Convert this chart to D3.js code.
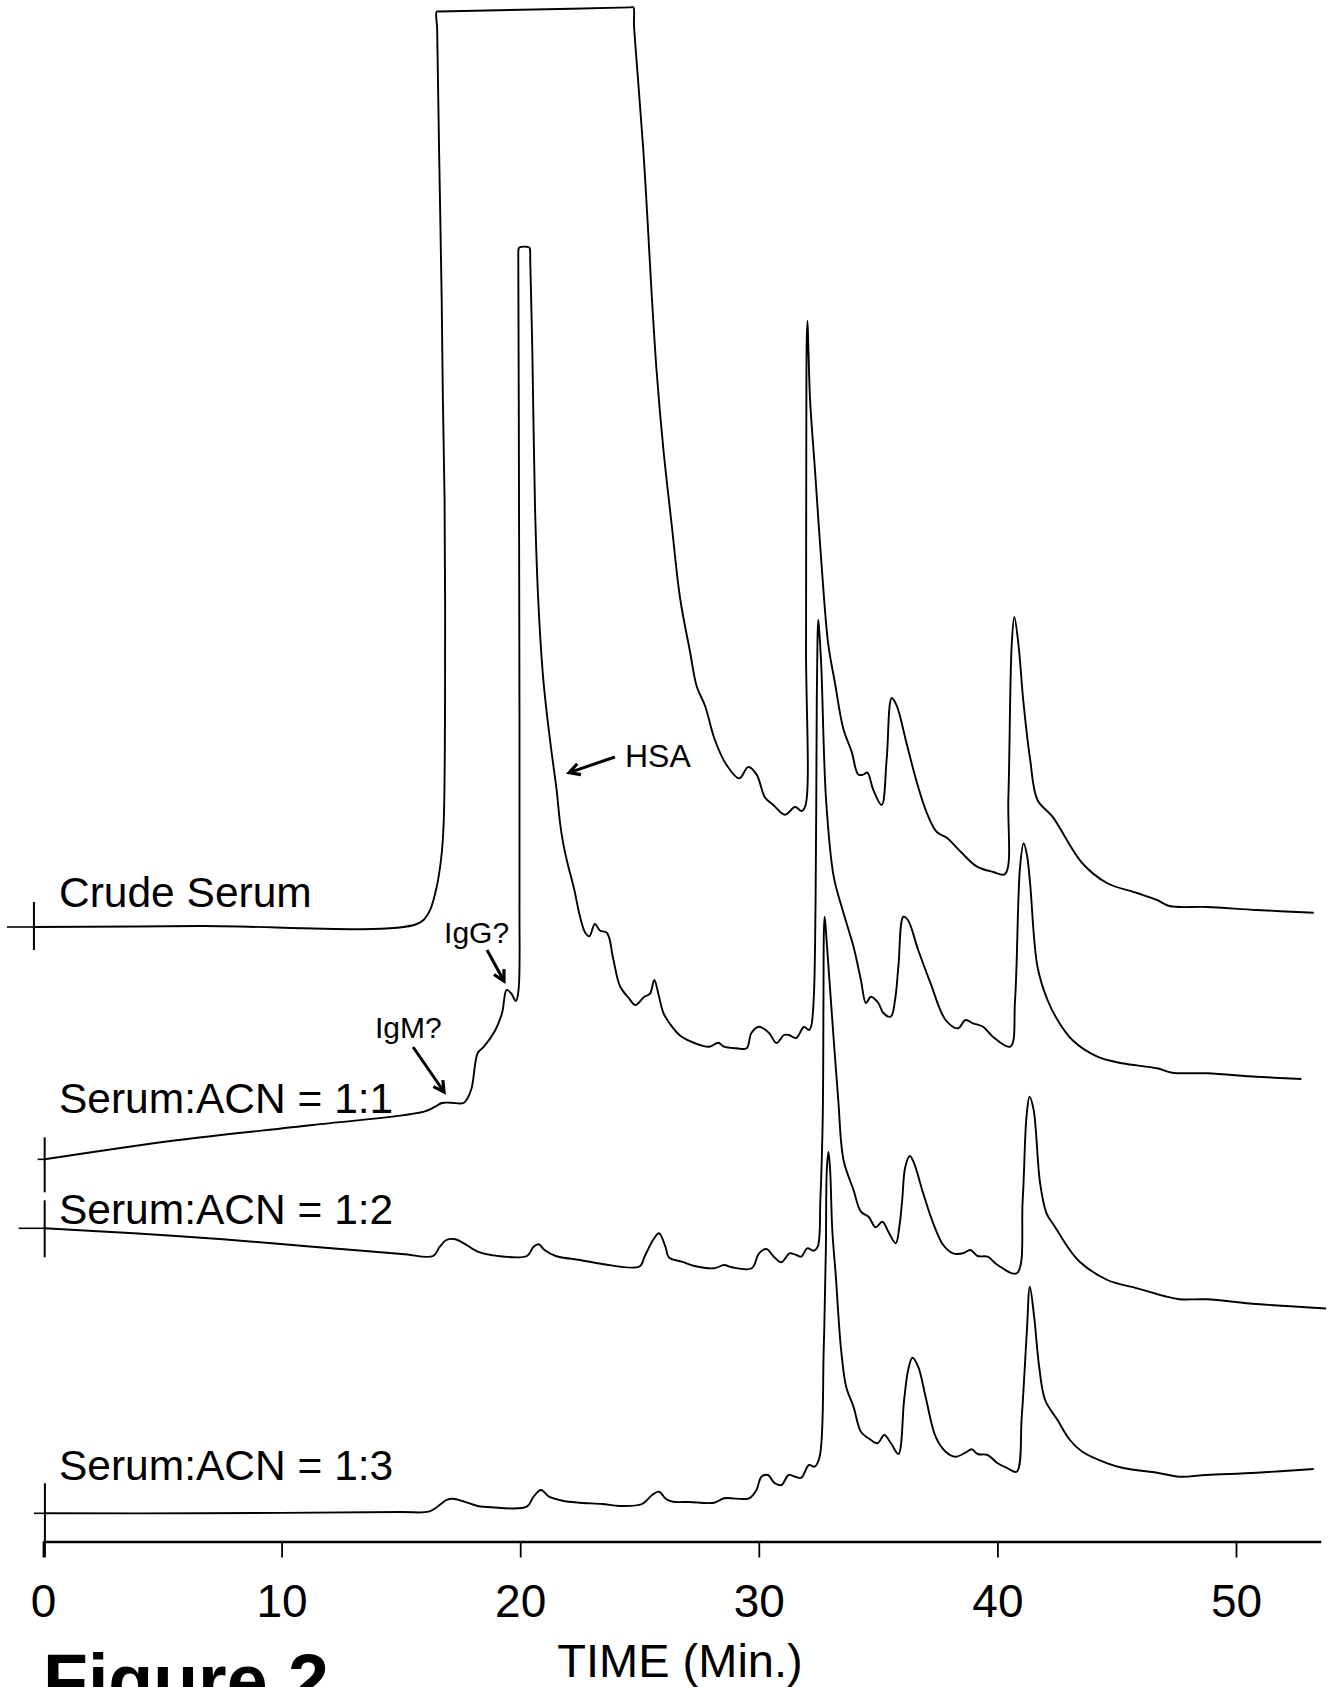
<!DOCTYPE html>
<html>
<head>
<meta charset="utf-8">
<script src="https://cdn.jsdelivr.net/npm/d3@7"></script>
<style>
  body { margin: 0; background: #fff; }
  svg { display: block; font-family: "Liberation Sans", Arial, Helvetica, sans-serif; }
</style>
</head>
<body>
<div id="chart"></div>
<script>
// Chromatogram traces: [time (min), detector signal (a.u.)]
// signal values already include the vertical stacking offset used in the figure
const crudeSerum = [
  [-0.38, 61.45], [6.58, 61.55], [15.67, 61.75], [16.16, 62.85], [16.47, 65.15], [16.68, 68.15],
  [16.79, 71.65], [16.85, 84.15], [16.83, 104.15], [16.76, 114.15], [16.71, 124.15], [16.60, 139.15],
  [16.52, 151.2], [16.50, 152.98], [16.62, 153.0], [20.6, 153.2], [24.60, 153.41], [24.74, 153.42],
  [24.77, 151.6], [24.94, 146.15], [25.16, 139.15], [25.36, 131.15], [25.50, 125.15],
  [25.72, 116.95], [26.00, 109.25], [26.35, 101.65], [26.70, 94.35], [27.12, 88.95], [27.40, 85.5],
  [27.75, 83.55], [28.16, 80.15], [28.65, 77.65], [29.18, 76.31], [29.56, 77.45], [29.91, 76.69],
  [30.26, 74.4], [30.61, 73.65], [31.10, 72.68], [31.52, 73.45], [31.80, 73.05], [31.96, 73.65],
  [31.98, 89.15], [31.99, 109.15], [32.01, 120.15], [32.04, 122.05], [32.08, 119.15], [32.15, 114.15],
  [32.36, 106.95], [32.64, 97.35], [32.91, 89.75], [33.19, 85.88], [33.54, 81.29], [33.89, 78.99],
  [34.17, 76.69], [34.38, 76.69], [34.55, 76.89], [34.80, 75.16], [35.15, 73.65], [35.36, 78.25],
  [35.57, 84.35], [35.78, 83.58], [36.20, 79.75], [36.62, 75.95], [37.04, 72.87], [37.46, 70.95],
  [37.88, 70.38], [38.43, 69.05], [39.13, 67.51], [39.83, 66.95], [40.32, 66.75], [40.46, 74.4],
  [40.60, 89.71], [40.71, 92.46], [40.88, 89.75], [41.09, 83.97], [41.37, 78.25], [41.68, 74.15],
  [42.31, 72.48], [43.55, 67.85], [44.59, 65.85], [45.85, 64.85], [46.69, 64.15], [47.21, 63.55],
  [48.78, 63.45], [50.86, 63.15], [53.26, 62.88]
];

const serumAcn11 = [
  [0.07, 38.22], [5.68, 40.15], [11.30, 41.65], [15.97, 42.98], [16.43, 43.48], [16.72, 43.85],
  [17.10, 43.88], [17.64, 43.88], [17.94, 45.15], [18.22, 48.85], [18.48, 49.48], [18.96, 51.15],
  [19.24, 52.85], [19.43, 55.15], [19.61, 54.85], [19.82, 54.05], [19.93, 55.15], [19.97, 64.15],
  [19.96, 94.15], [19.94, 114.15], [19.92, 128.15], [19.925, 129.1], [19.96, 129.4], [20.38, 129.4],
  [20.415, 129.1], [20.42, 128.15],
  [20.51, 118.85], [20.62, 103.55], [20.76, 93.95], [20.97, 86.15], [21.25, 80.15], [21.53, 75.07],
  [21.67, 71.85], [21.81, 69.71], [21.98, 67.85], [22.25, 65.35], [22.51, 62.45], [22.72, 60.9],
  [22.90, 60.52], [23.13, 61.75], [23.34, 61.1], [23.64, 60.85], [23.90, 58.25], [24.18, 55.55],
  [24.53, 54.4], [24.83, 53.65], [25.19, 54.45], [25.44, 54.78], [25.62, 56.15], [25.79, 54.78],
  [26.00, 52.87], [26.28, 51.75], [26.70, 50.6], [27.30, 49.85], [27.93, 49.48], [28.30, 49.88],
  [28.54, 49.48], [29.07, 49.32], [29.49, 49.32], [29.69, 50.85], [30.01, 51.48], [30.43, 50.85],
  [30.74, 49.85], [31.06, 50.65], [31.26, 50.65], [31.57, 50.35], [31.89, 51.45], [32.10, 51.15],
  [32.19, 51.48], [32.30, 54.15], [32.38, 64.15], [32.43, 84.15], [32.46, 90.15], [32.49, 92.15],
  [32.53, 91.15], [32.62, 87.48], [32.82, 74.15], [33.14, 66.48], [33.55, 62.85], [33.97, 59.48],
  [34.28, 56.15], [34.49, 53.85], [34.70, 54.48], [35.01, 53.85], [35.22, 52.85], [35.53, 52.48],
  [35.71, 54.15], [35.85, 57.48], [36.06, 62.48], [36.25, 62.15], [36.68, 59.15], [37.20, 55.82],
  [37.83, 52.15], [38.35, 51.32], [38.66, 52.15], [38.98, 51.82], [39.40, 51.48], [39.81, 50.48],
  [40.54, 49.48], [40.74, 54.15], [40.95, 67.48], [41.10, 69.82], [41.24, 68.65], [41.37, 65.82],
  [41.68, 57.48], [42.10, 54.15], [42.52, 52.15], [43.14, 50.15], [44.19, 48.48], [45.23, 47.82],
  [46.69, 47.32], [47.32, 46.88], [48.78, 46.82], [50.86, 46.48], [52.74, 46.25]
];

const serumAcn12 = [
  [0.07, 31.32], [3.81, 30.82], [7.54, 30.22], [11.30, 29.48], [15.04, 28.75], [16.35, 28.55],
  [16.63, 29.48], [16.91, 30.15], [17.28, 30.22], [17.75, 29.65], [18.22, 28.98], [18.78, 28.65],
  [20.28, 28.55], [20.56, 29.48], [20.78, 29.72], [21.02, 29.15], [21.49, 28.55], [22.51, 28.15],
  [23.44, 27.75], [25.00, 27.5], [25.21, 28.48], [25.57, 30.15], [25.82, 30.82], [26.09, 29.45],
  [26.23, 28.42], [26.77, 27.98], [27.30, 27.55], [28.13, 27.32], [28.55, 27.65], [28.87, 27.42],
  [29.70, 27.32], [30.01, 28.82], [30.32, 29.25], [30.63, 28.48], [30.95, 27.92], [31.29, 28.82],
  [31.57, 28.65], [31.78, 28.48], [32.03, 29.32], [32.30, 29.08], [32.47, 29.48], [32.58, 34.15],
  [32.68, 42.48], [32.71, 54.15], [32.73, 61.15], [32.76, 62.48], [32.81, 61.15], [32.92, 57.48],
  [33.12, 50.85], [33.33, 44.15], [33.55, 38.15], [33.97, 35.15], [34.28, 32.98], [34.60, 32.48],
  [34.90, 31.42], [35.18, 31.98], [35.43, 30.98], [35.74, 29.82], [35.90, 31.65], [36.01, 34.15],
  [36.14, 37.48], [36.33, 38.55], [36.51, 37.82], [36.89, 34.82], [37.31, 31.82], [37.73, 29.65],
  [38.14, 28.82], [38.56, 28.82], [38.87, 29.15], [39.17, 28.55], [39.59, 28.48], [40.01, 27.65],
  [40.81, 26.82], [41.06, 34.15], [41.22, 42.48], [41.35, 44.48], [41.52, 43.15], [41.79, 35.82],
  [42.06, 32.82], [42.41, 31.48], [42.94, 29.48], [43.45, 27.98], [44.61, 26.15], [45.86, 25.32],
  [46.99, 24.55], [47.63, 24.22], [48.76, 24.22], [50.86, 23.75], [53.78, 23.3]
];

const serumAcn13 = [
  [0.08, 2.82], [6.58, 2.82], [14.96, 2.95], [16.16, 2.98], [16.53, 3.48], [16.91, 4.15],
  [17.18, 4.28], [17.66, 3.98], [18.22, 3.55], [18.78, 3.42], [20.28, 3.48], [20.56, 4.48],
  [20.87, 5.15], [21.21, 4.48], [21.77, 4.08], [22.51, 3.88], [23.44, 3.75], [24.17, 3.55],
  [25.11, 3.75], [25.53, 4.65], [25.82, 4.98], [26.11, 4.25], [26.40, 3.98], [27.09, 3.95],
  [28.13, 3.88], [28.55, 4.32], [29.59, 4.32], [29.90, 5.15], [30.11, 6.48], [30.38, 6.65],
  [30.67, 5.82], [30.95, 5.65], [31.25, 6.65], [31.53, 6.48], [31.78, 6.38], [32.10, 7.65],
  [32.34, 7.48], [32.55, 8.48], [32.72, 19.15], [32.81, 29.15], [32.85, 37.15], [32.92, 38.95],
  [32.99, 37.15], [33.08, 31.15], [33.24, 26.15], [33.34, 22.48], [33.45, 19.15], [33.66, 15.48],
  [33.97, 13.48], [34.28, 10.98], [34.60, 10.32], [34.97, 9.82], [35.26, 10.65], [35.54, 9.82],
  [35.85, 8.75], [36.09, 14.15], [36.26, 17.15], [36.44, 18.38], [36.68, 17.48], [36.99, 14.48],
  [37.41, 10.48], [37.83, 8.98], [38.24, 8.48], [38.66, 8.88], [38.93, 9.22], [39.17, 8.75],
  [39.59, 8.65], [40.01, 7.82], [40.43, 7.32], [40.81, 6.98], [41.02, 12.48], [41.23, 20.82],
  [41.36, 25.48], [41.54, 22.48], [41.75, 17.48], [42.00, 14.15], [42.52, 12.15], [43.04, 10.15],
  [43.56, 8.98], [44.61, 7.82], [45.32, 7.32], [46.69, 6.88], [47.63, 6.48], [48.76, 6.65],
  [50.86, 6.88], [53.26, 7.25]
];

const traceNames = ["Crude Serum", "Serum:ACN = 1:1", "Serum:ACN = 1:2", "Serum:ACN = 1:3"];
const timeTicks = [0, 10, 20, 30, 40, 50];

// peak annotations: label anchor, arrow tail and arrow tip in [time, signal]
const annotationText = ["HSA", "IgG?", "IgM?"];
const annotationLabel = [[24.39, 77.45], [16.81, 59.85], [13.91, 50.35]];
const annotationTail = [[23.97, 78.45], [18.61, 59.15], [15.51, 49.45]];
const annotationTip = [[22.05, 76.89], [19.32, 56.05], [16.81, 44.95]];

// ----- layout -----
const width = 1338, height = 1687;
const margin = { left: 43, right: 17.3, bottom: 145.5, top: 41.5 };
const fontFamily = "'Liberation Sans', Arial, Helvetica, sans-serif";

const svg = d3.select("#chart").append("svg")
  .attr("width", width)
  .attr("height", height);

svg.append("rect")
  .attr("width", width)
  .attr("height", height)
  .attr("fill", "#fff");

const x = d3.scaleLinear()
  .domain([0, 53.55])
  .range([margin.left, width - margin.right]);

const y = d3.scaleLinear()
  .domain([0, 150])
  .range([height - margin.bottom, margin.top]);

const line = d3.line()
  .x(d => x(d[0]))
  .y(d => y(d[1]))
  .curve(d3.curveCatmullRom.alpha(0.5));

// x axis
const gx = svg.append("g")
  .attr("transform", `translate(0,${y(0)})`)
  .call(d3.axisBottom(x).tickValues(timeTicks).tickSize(16).tickSizeOuter(0).tickPadding(27).tickFormat(d3.format("d")));

gx.select(".domain").attr("stroke", "#000").attr("stroke-width", 2.4);
gx.selectAll(".tick line").attr("stroke", "#000").attr("stroke-width", 1.8);
gx.selectAll(".tick text")
  .attr("fill", "#000")
  .attr("font-size", 46)
  .attr("font-family", fontFamily);

svg.append("text")
  .attr("x", 680)
  .attr("y", 1677)
  .attr("text-anchor", "middle")
  .attr("font-size", 47)
  .attr("fill", "#000")
  .text("TIME (Min.)");

svg.append("text")
  .attr("x", 43)
  .attr("y", 1706)
  .attr("font-size", 73.5)
  .attr("font-weight", "bold")
  .attr("fill", "#000")
  .text("Figure 2");

// traces
const traces = [crudeSerum, serumAcn11, serumAcn12, serumAcn13];

svg.selectAll(".trace")
  .data(traces)
  .enter()
  .append("path")
  .attr("class", "trace")
  .attr("d", line)
  .attr("fill", "none")
  .attr("stroke", "#000")
  .attr("stroke-width", 1.9)
  .attr("stroke-linejoin", "round");

// injection markers at the start of each trace
const markerStub = [27, 7, 26, 11];
const markerUp = [25, 22, 28, 30];
const markerDown = [23, 33, 29, 44];

traces.forEach((tr, i) => {
  const cx = x(tr[0][0]), cy = y(tr[0][1]);
  svg.append("line")
    .attr("x1", cx).attr("x2", cx)
    .attr("y1", cy - markerUp[i]).attr("y2", cy + markerDown[i])
    .attr("stroke", "#000").attr("stroke-width", 2);
  svg.append("line")
    .attr("x1", cx - markerStub[i]).attr("x2", cx)
    .attr("y1", cy).attr("y2", cy)
    .attr("stroke", "#000").attr("stroke-width", 1.6);
});

// trace labels
const labelAnchor = [[0.67, 63.45], [0.67, 42.85], [0.67, 31.75], [0.67, 6.15]];
svg.selectAll(".trace-label")
  .data(traceNames)
  .enter()
  .append("text")
  .attr("class", "trace-label")
  .attr("x", (d, i) => x(labelAnchor[i][0]))
  .attr("y", (d, i) => y(labelAnchor[i][1]))
  .attr("font-size", 42.5)
  .attr("fill", "#000")
  .text(d => d);

// annotations with arrows
const annFont = [32, 30, 30];
annotationText.forEach((txt, i) => {
  svg.append("text")
    .attr("x", x(annotationLabel[i][0]))
    .attr("y", y(annotationLabel[i][1]))
    .attr("font-size", annFont[i])
    .attr("fill", "#000")
    .text(txt);

  const x1 = x(annotationTail[i][0]), y1 = y(annotationTail[i][1]);
  const x2 = x(annotationTip[i][0]), y2 = y(annotationTip[i][1]);
  svg.append("line")
    .attr("x1", x1).attr("y1", y1)
    .attr("x2", x2).attr("y2", y2)
    .attr("stroke", "#000").attr("stroke-width", 3);

  const ang = Math.atan2(y1 - y2, x1 - x2);
  const head = 12, spread = 0.5;
  const p = d3.path();
  p.moveTo(x2 + head * Math.cos(ang - spread), y2 + head * Math.sin(ang - spread));
  p.lineTo(x2, y2);
  p.lineTo(x2 + head * Math.cos(ang + spread), y2 + head * Math.sin(ang + spread));
  svg.append("path")
    .attr("d", p.toString())
    .attr("fill", "none")
    .attr("stroke", "#000")
    .attr("stroke-width", 3.2)
    .attr("stroke-linejoin", "miter");
});
</script>
</body>
</html>
